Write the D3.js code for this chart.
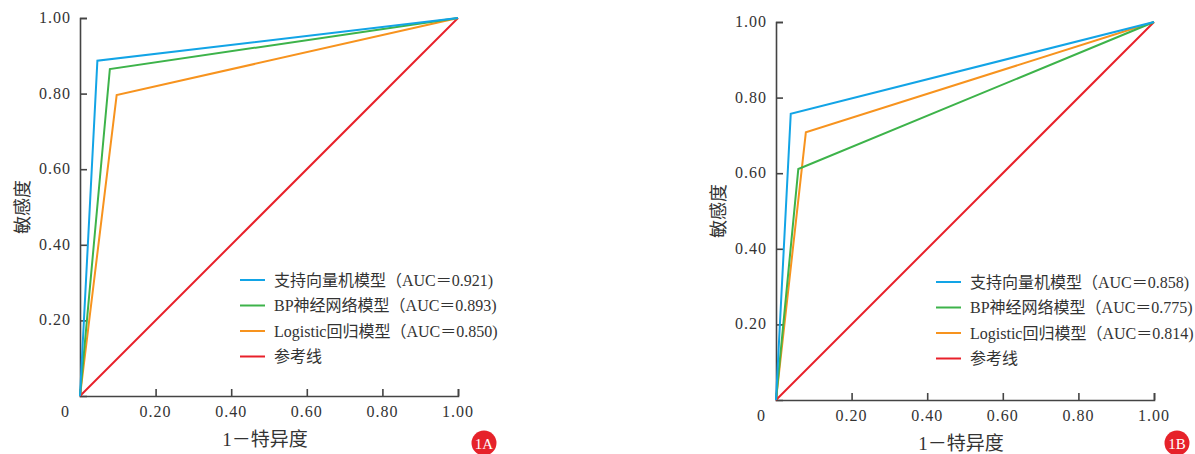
<!DOCTYPE html>
<html>
<head>
<meta charset="utf-8">
<script src="https://cdn.jsdelivr.net/npm/d3@7"></script>
<style>
  body { margin: 0; background: #fff; }
  svg { display: block; }
  text { font-family: "Liberation Serif", "Noto Sans CJK SC", serif; fill: #333; }
</style>
</head>
<body>
<div id="chart"></div>
<script>
// model names shared by both panels
const models = ['支持向量机模型', 'BP神经网络模型', 'Logistic回归模型'];
const refName = '参考线';
const colors = ['#12a4e6', '#3db34a', '#f7931e', '#e8202a'];

// ROC knee points (1-specificity, sensitivity)
const kneeA_x = [0.046, 0.079, 0.097];
const kneeA_y = [0.887, 0.865, 0.796];
const aucA = ['0.921', '0.893', '0.850'];

const kneeB_x = [0.039, 0.059, 0.079];
const kneeB_y = [0.757, 0.611, 0.708];
const aucB = ['0.858', '0.775', '0.814'];

const xTicks = [0.2, 0.4, 0.6, 0.8, 1.0];
const yTicks = [0.2, 0.4, 0.6, 0.8, 1.0];

const svg = d3.select('#chart').append('svg')
  .attr('width', 1195)
  .attr('height', 454);

function drawPanel(opts) {
  const x = d3.scaleLinear().domain([0, 1]).range([opts.left, opts.left + 378]);
  const y = d3.scaleLinear().domain([0, 1]).range([opts.bottom, opts.bottom - 378]);
  const g = svg.append('g');

  // axes, ticks pointing inward
  const xAxis = g.append('g')
    .attr('transform', 'translate(0,' + opts.bottom + ')')
    .call(d3.axisTop(x).tickValues(xTicks).tickSize(7).tickFormat(''));
  const yAxis = g.append('g')
    .attr('transform', 'translate(' + opts.left + ',0)')
    .call(d3.axisRight(y).tickValues(yTicks).tickSize(7).tickFormat(''));
  [xAxis, yAxis].forEach(a => {
    a.select('.domain').attr('stroke', '#444').attr('stroke-width', 1.6);
    a.selectAll('.tick line').attr('stroke', '#444').attr('stroke-width', 1.6);
  });

  // tick labels
  g.selectAll('.xl').data(xTicks).enter().append('text')
    .attr('x', d => x(d))
    .attr('y', opts.bottom + 21)
    .attr('text-anchor', 'middle')
    .attr('font-size', '16px')
    .attr('letter-spacing', '1px')
    .text(d => d.toFixed(2));
  g.selectAll('.yl').data(yTicks).enter().append('text')
    .attr('x', opts.left - 9)
    .attr('y', d => y(d) + 5)
    .attr('text-anchor', 'end')
    .attr('font-size', '16px')
    .attr('letter-spacing', '1px')
    .text(d => d.toFixed(2));
  g.append('text')
    .attr('x', opts.left - 15)
    .attr('y', opts.bottom + 21)
    .attr('text-anchor', 'middle')
    .attr('font-size', '16px')
    .text('0');

  // axis titles
  g.append('text')
    .attr('transform', 'translate(' + (opts.left - 57) + ',' + y(0.5) + ') rotate(-90)')
    .attr('text-anchor', 'middle')
    .attr('dy', '0.35em')
    .attr('font-size', '18px')
    .text('敏感度');
  g.append('text')
    .attr('x', x(0.5) - 4)
    .attr('y', opts.bottom + 50)
    .attr('text-anchor', 'middle')
    .attr('font-size', '19px')
    .text('1－特异度');

  // ROC lines
  const line = d3.line().x(d => x(d[0])).y(d => y(d[1]));
  g.append('path')
    .attr('d', line([[0, 0], [1, 1]]))
    .attr('fill', 'none').attr('stroke', colors[3]).attr('stroke-width', 2);
  for (let i = models.length - 1; i >= 0; i--) {
    g.append('path')
      .attr('d', line([[0, 0], [opts.kx[i], opts.ky[i]], [1, 1]]))
      .attr('fill', 'none').attr('stroke', colors[i]).attr('stroke-width', 2);
  }

  // legend
  const labels = models.map((m, i) => m + '（AUC＝' + opts.auc[i] + ')').concat([refName]);
  const leg = g.append('g').attr('transform', 'translate(' + opts.legX + ',' + opts.legY + ')');
  labels.forEach((t, i) => {
    leg.append('line')
      .attr('x1', 0).attr('x2', 25)
      .attr('y1', i * 25.5).attr('y2', i * 25.5)
      .attr('stroke', colors[i]).attr('stroke-width', 2);
    leg.append('text')
      .attr('x', 34).attr('y', i * 25.5 + 5.5)
      .attr('font-size', '16px')
      .text(t);
  });

  // panel badge
  svg.append('circle')
    .attr('cx', opts.badgeX).attr('cy', 443).attr('r', 12.5)
    .attr('fill', '#e6222a');
  svg.append('text')
    .attr('x', opts.badgeX).attr('y', 448.5)
    .attr('text-anchor', 'middle')
    .attr('font-size', '15px')
    .style('fill', '#fff')
    .text(opts.badge);
}

drawPanel({ left: 80, bottom: 396, kx: kneeA_x, ky: kneeA_y, auc: aucA,
  legX: 240, legY: 280, badgeX: 484, badge: '1A' });
drawPanel({ left: 776, bottom: 400, kx: kneeB_x, ky: kneeB_y, auc: aucB,
  legX: 936, legY: 282, badgeX: 1177, badge: '1B' });
</script>
</body>
</html>
